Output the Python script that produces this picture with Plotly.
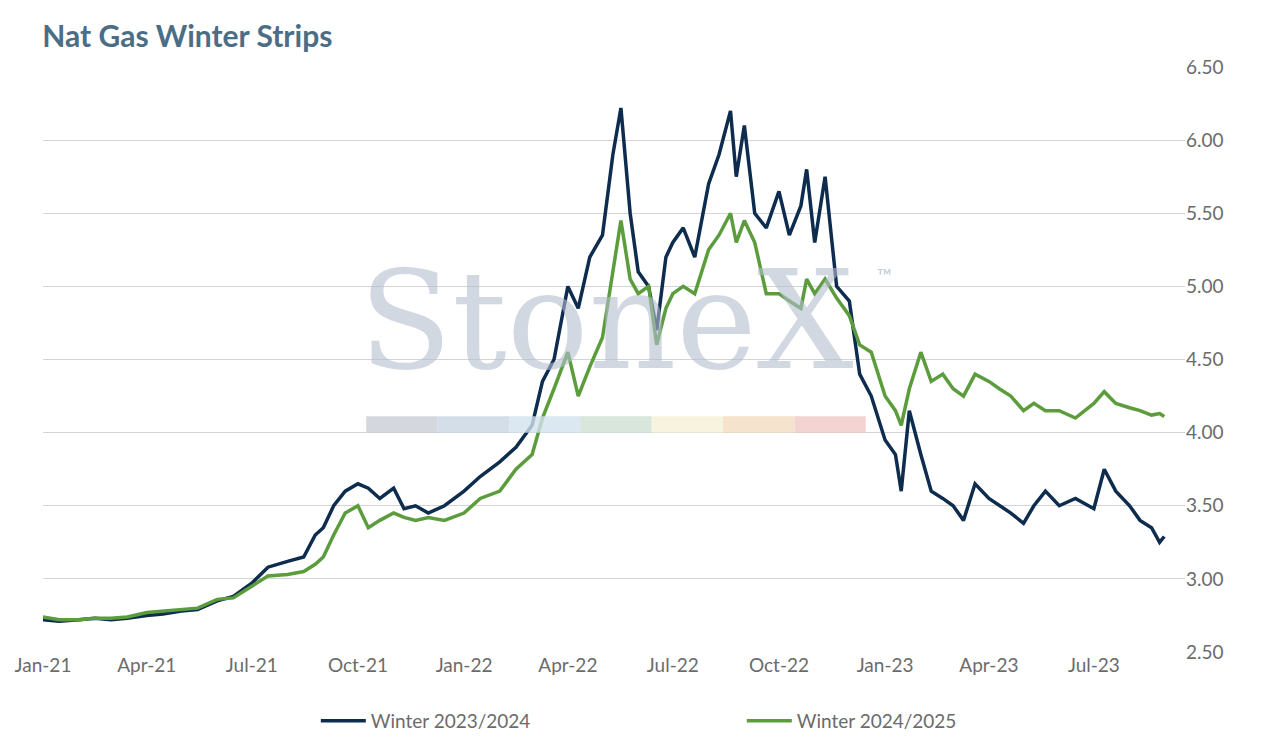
import plotly.graph_objects as go

# semi-monthly readings of the two winter strips ($/MMBtu)
dates = [
    "2021-01-01", "2021-01-15", "2021-02-01", "2021-02-15", "2021-03-01", "2021-03-15",
    "2021-04-01", "2021-04-15", "2021-05-01", "2021-05-15", "2021-06-01", "2021-06-15",
    "2021-07-01", "2021-07-15", "2021-08-01", "2021-08-15", "2021-08-25", "2021-09-01",
    "2021-09-10", "2021-09-20", "2021-10-01", "2021-10-10", "2021-10-20", "2021-11-01",
    "2021-11-10", "2021-11-20", "2021-12-01", "2021-12-15", "2022-01-01", "2022-01-15",
    "2022-02-01", "2022-02-15", "2022-03-01", "2022-03-10", "2022-03-20", "2022-04-01",
    "2022-04-10", "2022-04-20", "2022-05-01", "2022-05-10", "2022-05-17", "2022-05-25",
    "2022-06-01", "2022-06-10", "2022-06-17", "2022-06-25", "2022-07-01", "2022-07-10",
    "2022-07-20", "2022-08-01", "2022-08-10", "2022-08-20", "2022-08-25", "2022-09-01",
    "2022-09-10", "2022-09-20", "2022-10-01", "2022-10-10", "2022-10-20", "2022-10-25",
    "2022-11-01", "2022-11-10", "2022-11-20", "2022-12-01", "2022-12-10", "2022-12-20",
    "2023-01-01", "2023-01-10", "2023-01-15", "2023-01-22", "2023-02-01", "2023-02-10",
    "2023-02-20", "2023-03-01", "2023-03-10", "2023-03-20", "2023-04-01", "2023-04-10",
    "2023-04-20", "2023-05-01", "2023-05-10", "2023-05-20", "2023-06-01", "2023-06-15",
    "2023-07-01", "2023-07-10", "2023-07-20", "2023-08-01", "2023-08-10", "2023-08-20",
    "2023-08-27", "2023-08-31",
]

winter_23_24 = [
    2.72, 2.71, 2.72, 2.73, 2.72, 2.73,
    2.75, 2.76, 2.78, 2.79, 2.85, 2.88,
    2.97, 3.08, 3.12, 3.15, 3.30, 3.35,
    3.50, 3.60, 3.65, 3.62, 3.55, 3.62,
    3.48, 3.50, 3.45, 3.50, 3.60, 3.70,
    3.80, 3.90, 4.05, 4.35, 4.50, 5.00,
    4.85, 5.20, 5.35, 5.90, 6.22, 5.50,
    5.10, 5.00, 4.70, 5.20, 5.30, 5.40,
    5.20, 5.70, 5.90, 6.20, 5.75, 6.10,
    5.50, 5.40, 5.65, 5.35, 5.55, 5.80,
    5.30, 5.75, 5.00, 4.90, 4.40, 4.25,
    3.95, 3.85, 3.60, 4.15, 3.85, 3.60,
    3.55, 3.50, 3.40, 3.65, 3.55, 3.50,
    3.45, 3.38, 3.50, 3.60, 3.50, 3.55,
    3.48, 3.75, 3.60, 3.50, 3.40, 3.35,
    3.25, 3.29,
]

winter_24_25 = [
    2.74, 2.72, 2.72, 2.73, 2.73, 2.74,
    2.77, 2.78, 2.79, 2.80, 2.86, 2.87,
    2.95, 3.02, 3.03, 3.05, 3.10, 3.15,
    3.30, 3.45, 3.50, 3.35, 3.40, 3.45,
    3.42, 3.40, 3.42, 3.40, 3.45, 3.55,
    3.60, 3.75, 3.85, 4.10, 4.30, 4.55,
    4.25, 4.45, 4.65, 5.10, 5.45, 5.05,
    4.95, 5.00, 4.60, 4.85, 4.95, 5.00,
    4.95, 5.25, 5.35, 5.50, 5.30, 5.45,
    5.30, 4.95, 4.95, 4.90, 4.85, 5.05,
    4.95, 5.05, 4.92, 4.80, 4.60, 4.55,
    4.25, 4.15, 4.05, 4.30, 4.55, 4.35,
    4.40, 4.30, 4.25, 4.40, 4.35, 4.30,
    4.25, 4.15, 4.20, 4.15, 4.15, 4.10,
    4.20, 4.28, 4.20, 4.17, 4.15, 4.12,
    4.13, 4.11,
]

tick_dates = ["2021-01-01", "2021-04-01", "2021-07-01", "2021-10-01", "2022-01-01",
              "2022-04-01", "2022-07-01", "2022-10-01", "2023-01-01", "2023-04-01",
              "2023-07-01"]
tick_labels = ["Jan-21", "Apr-21", "Jul-21", "Oct-21", "Jan-22", "Apr-22",
               "Jul-22", "Oct-22", "Jan-23", "Apr-23", "Jul-23"]

fig = go.Figure()
fig.add_trace(go.Scatter(x=dates, y=winter_23_24, name="Winter 2023/2024", mode="lines",
                         line=dict(color="#0d2c4e", width=3.5)))
fig.add_trace(go.Scatter(x=dates, y=winter_24_25, name="Winter 2024/2025", mode="lines",
                         line=dict(color="#5b9c3c", width=3.5)))

# watermark
fig.add_annotation(text="StoneX", xref="paper", yref="paper", x=0.493, y=0.565,
                   showarrow=False, font=dict(family="DejaVu Serif", size=136, color="rgba(180,190,205,0.6)"))
fig.add_annotation(text="™", xref="paper", yref="paper", x=0.745, y=0.645,
                   showarrow=False, font=dict(family="Lato", size=20, color="rgba(180,190,205,0.8)"))
wm_colors = ["#c9ced6", "#c8d6e4", "#d2e2ee", "#cfe0d2", "#f6f0d6", "#f4dcc0", "#f1c9c8"]
for i, c in enumerate(wm_colors):
    fig.add_shape(type="rect", xref="paper", yref="paper", layer="above",
                  x0=0.283 + i * 0.0625, x1=0.283 + (i + 1) * 0.0625, y0=0.375, y1=0.403,
                  fillcolor=c, opacity=0.8, line=dict(width=0))

fig.update_layout(
    width=1272, height=743,
    paper_bgcolor="white", plot_bgcolor="white",
    font=dict(family="Lato", color="#6b6b6b", size=19),
    title=dict(text="<b>Nat Gas Winter Strips</b>", x=0.027, xref="container",
               y=0.962, yref="container", yanchor="middle", automargin=False,
               font=dict(family="Lato", size=30, color="#4b6d85")),
    margin=dict(l=35, r=95, t=59, b=99, autoexpand=False),
    showlegend=True,
    legend=dict(orientation="h", xref="container", x=0.242, xanchor="left",
                yref="container", y=0.015, yanchor="bottom",
                font=dict(size=19, color="#6b6b6b"), itemwidth=45,
                entrywidth=366),
    xaxis=dict(type="date", range=["2021-01-01", "2023-09-18"], tickvals=tick_dates,
               ticktext=tick_labels, showgrid=False, zeroline=False, showline=False,
               ticks=""),
    yaxis=dict(side="right", range=[2.5, 6.5], dtick=0.5, tickformat=".2f",
               gridcolor="#d4d4d4", gridwidth=1.3, zeroline=False, ticks=""),
)

fig.write_html("out.html")
